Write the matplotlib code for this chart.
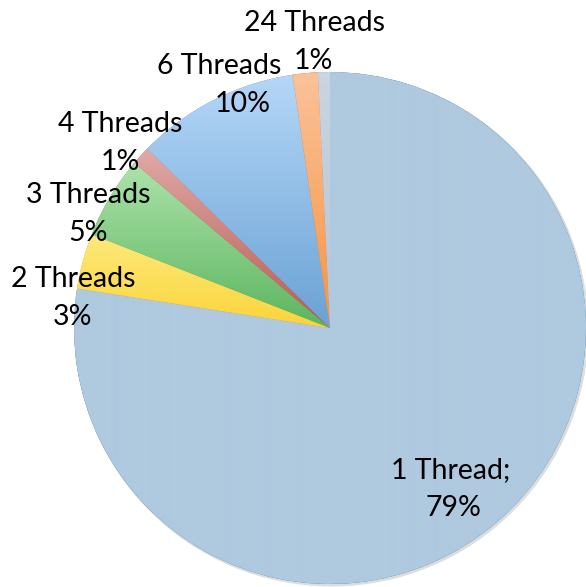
import numpy as np
import matplotlib.pyplot as plt
from matplotlib.colors import LinearSegmentedColormap

# =============================================================================
# Data (share of runs per thread count)

categories = ["1 Thread", "2 Threads", "3 Threads", "4 Threads",
              "6 Threads", "12 Threads", "24 Threads"]
shares = [77.5, 3.5, 5.2, 1.2, 10.3, 1.6, 0.75]
pct_labels = ["79%", "3%", "5%", "1%", "10%", "", "1%"]

# slice colours, top -> bottom of the gradient
TOP_COLOURS = ["#afc9df", "#fde97c", "#aee3ac", "#e0aaa8",
               "#b5d7f8", "#fbc29a", "#c9d5e1"]
BOTTOM_COLOURS = ["#afc9df", "#fbd43a", "#5bb55f", "#b85a50",
                  "#6aa2d4", "#f5943f", "#b3c6d8"]

# =============================================================================
# Plot, in pixel units of the 586 x 587 picture

W, H = 586, 587
CX, CY, R = 330, H - 328, 256

plt.rcParams["font.family"] = ["Lato", "DejaVu Sans"]

fg = plt.figure(figsize=(W / 100, H / 100), dpi=100)
ax = fg.add_axes([0, 0, 1, 1])

# soft shadow under the pie
ax.add_patch(plt.Circle((CX + 1.5, CY - 1.5), R + 1, color="#a0a0a0",
                        alpha=0.35, lw=0, zorder=0))

wedges, _ = ax.pie(
    shares,
    startangle=90,
    counterclock=False,
    center=(CX, CY),
    radius=R,
    wedgeprops=dict(linewidth=0),
)

grad = np.linspace(0, 1, 256).reshape(-1, 1)
for w, top, bot in zip(wedges, TOP_COLOURS, BOTTOM_COLOURS):
    w.set_zorder(1)
    ext = w.get_path().get_extents()
    cmap = LinearSegmentedColormap.from_list("g", [top, bot])
    im = ax.imshow(grad, cmap=cmap, extent=[ext.x0, ext.x1, ext.y0, ext.y1],
                   origin="upper", aspect="auto", zorder=2, interpolation="bilinear")
    im.set_clip_path(w)

# -----------------------------------------------------------------------------
# Labels (placed like the Excel best-fit labels): centre x, baseline of 1st line

label_pos = {
    "1 Thread": (451, 478),
    "2 Threads": (73, 287),
    "3 Threads": (88, 203),
    "4 Threads": (120, 132),
    "6 Threads": (219, 74),
    "24 Threads": (315, 31),
}
pct_x_shift = {"6 Threads": 24, "24 Threads": -2, "1 Thread": 2}
LINE_GAP = 38

for cat, pct in zip(categories, pct_labels):
    if cat not in label_pos:
        continue
    px, py = label_pos[cat]
    sep = ";" if cat == "1 Thread" else ""
    ax.text(px, H - py, f"{cat}{sep}", ha="center", va="baseline",
            fontsize=20.5, color="k", zorder=5)
    ax.text(px + pct_x_shift.get(cat, 0), H - py - LINE_GAP, pct,
            ha="center", va="baseline", fontsize=20.5, color="k", zorder=5)

ax.set_xlim(0, W)
ax.set_ylim(0, H)
ax.set_aspect("equal")
ax.axis("off")

fg.savefig("out.png", dpi=100)
